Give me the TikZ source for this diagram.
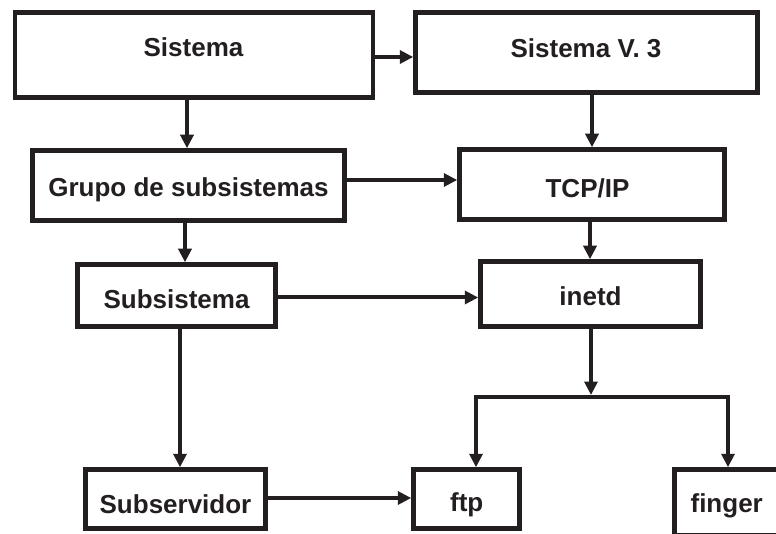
\documentclass[tikz,border=0pt]{standalone}
\usepackage{fontspec}
\setmainfont{Liberation Sans}
\usetikzlibrary{arrows.meta}
\definecolor{ink}{RGB}{35,31,32}
\begin{document}
\begin{tikzpicture}[x=1pt,y=-1pt,
  box/.style n args={2}{draw=ink, line width=4.5pt, fill=white, inner sep=0pt,
    minimum width=#1pt, minimum height=#2pt},
  txt/.style={text=ink, inner sep=0pt, text height=18.6pt, text depth=0pt,
    font=\fontsize{26}{30}\selectfont\bfseries},
  arr/.style={draw=ink, line width=4pt, line join=miter,
    -{Triangle[length=13.5pt,width=13pt]}}
]
\useasboundingbox (0,0) rectangle (776,534);
\clip (0,0) rectangle (776,534);

% boxes
\node[box={358}{85}]  (sis)   at (194,55)      {};
\node[box={342}{80}]  (sv3)   at (586.5,52.5)  {};
\node[box={312}{70}]  (grp)   at (188.5,185.5) {};
\node[box={265}{70}]  (tcp)   at (592,184.5)   {};
\node[box={198}{62}]  (sub)   at (176.5,295.5) {};
\node[box={220}{65}]  (inetd) at (590.5,294)   {};
\node[box={180}{59}]  (srv)   at (175.5,499)   {};
\node[box={106}{59}]  (ftp)   at (466.5,499)   {};
\node[box={125.5}{66}] (fng)  at (737.25,502.5) {};

% labels
\node[txt] (t-sis)   at (193.5,47.5) {Sistema};
\node[txt] (t-sv3)   at (586,48)     {Sistema V. 3};
\node[txt] (t-grp)   at (188.5,187.5) {Grupo de subsistemas};
\node[txt] (t-tcp)   at (587.5,188)  {TCP/IP};
\node[txt] (t-sub)   at (176.5,299.5) {Subsistema};
\node[txt] (t-inetd) at (590.5,296)  {inetd};
\node[txt] (t-srv)   at (175.5,504)  {Subservidor};
\node[txt] (t-ftp)   at (466.7,502.5) {ftp};
\node[txt] (t-fng)   at (726.7,503)  {finger};

% connectors
\draw[arr] (sis.east |- 0,57) -- (sv3.west |- 0,57);
\draw[arr] (sis.south -| 187,0) -- (grp.north -| 187,0);
\draw[arr] (sv3.south -| 592,0) -- (tcp.north -| 592,0);
\draw[arr] (grp.east |- 0,180) -- (tcp.west |- 0,180);
\draw[arr] (tcp.south -| 590,0) -- (inetd.north -| 590,0);
\draw[arr] (grp.south -| 185,0) -- (sub.north -| 185,0);
\draw[arr] (sub.east |- 0,297.5) -- (inetd.west |- 0,297.5);
\draw[arr] (sub.south -| 180,0) -- (srv.north -| 180,0);
\draw[arr] (srv.east |- 0,498) -- (ftp.west |- 0,498);

% fan-out below inetd
\coordinate (hub) at (591,397);
\draw[arr] (inetd.south -| hub) -- ([yshift=2pt]hub);
\draw[arr] (hub) -| ([xshift=9.5pt]ftp.north);
\draw[arr] (hub) -| ([xshift=-9.25pt]fng.north);
\end{tikzpicture}
\end{document}
